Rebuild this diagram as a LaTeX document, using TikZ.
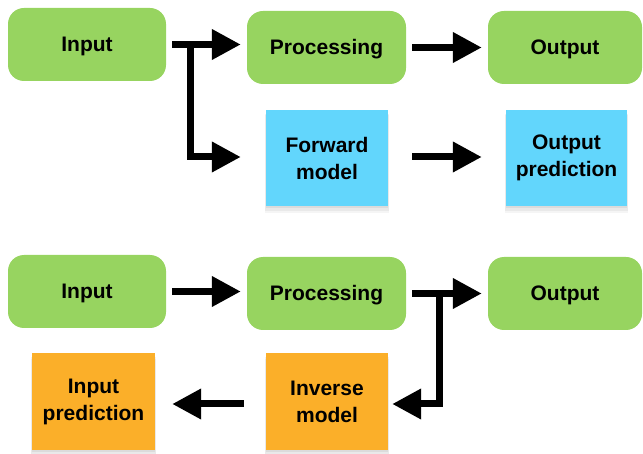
\documentclass[tikz,border=0pt]{standalone}
\usepackage{fontspec}
\setmainfont{Liberation Sans}
\usetikzlibrary{arrows.meta,shadows,calc}
\definecolor{gbox}{RGB}{151,212,96}
\definecolor{bbox}{RGB}{98,214,252}
\definecolor{obox}{RGB}{251,175,41}
\tikzset{
  txt/.style={font=\fontsize{21}{27}\selectfont\bfseries, align=center, text=black},
  greenbox/.style={txt, fill=gbox, rounded corners=16pt, minimum width=158pt, minimum height=73pt, inner sep=0pt,
    text height=15pt, text depth=0pt},
  note/.style={txt, minimum width=122pt, minimum height=96pt, inner sep=0pt,
    general shadow={shadow yshift=-2pt, opacity=0.06, fill=black},
    general shadow={shadow yshift=-4pt, shadow scale=1.01, opacity=0.05, fill=black},
    general shadow={shadow yshift=-6pt, shadow scale=1.02, opacity=0.04, fill=black}},
  bluenote/.style={note, fill=bbox},
  orangenote/.style={note, fill=obox},
  conn/.style={line width=7pt, line join=miter, draw=black,
    -{Triangle[length=29pt,width=29pt]}}
}
\begin{document}
\begin{tikzpicture}[x=1pt,y=-1pt]
\useasboundingbox (0,0) rectangle (643,454);
% top row
\node[greenbox] (in1) at (87,44.5) {Input};
\node[greenbox, minimum width=159pt] (proc1) at (326.5,47.5) {Processing};
\node[greenbox, minimum width=154pt] (out1) at (565,47.5) {Output};
\node[bluenote] (fwd) at (327,158) {Forward\\model};
\node[bluenote, minimum width=121pt] (opred) at (566.5,158) {Output\\prediction};
% bottom row
\node[greenbox] (in2) at (87,291.5) {Input};
\node[greenbox, minimum width=159pt] (proc2) at (326.5,293.5) {Processing};
\node[greenbox, minimum width=154pt] (out2) at (565,293.5) {Output};
\node[orangenote] (inv) at (327,401.5) {Inverse\\model};
\node[orangenote, minimum width=123pt] (ipred) at (93.5,401.5) {Input\\prediction};
% top connectors
\coordinate (b1) at ($(in1.east)+(24,0)$);
\coordinate (fwdl) at ($(fwd.west)+(0,-1)$);
\draw[conn, shorten <=6pt, shorten >=6pt] (in1.east) -- (in1.east -| proc1.west);
\draw[conn, shorten >=25pt] (b1) |- (fwdl);
\draw[conn, shorten <=6pt, shorten >=6pt] (proc1.east) -- (out1.west);
\draw[conn, shorten <=24pt, shorten >=24pt] (fwdl -| fwd.east) -- (fwdl -| opred.west);
% bottom connectors
\coordinate (b2) at ($(proc2.east)+(33,0)$);
\coordinate (invr) at ($(inv.east)+(0,2.5)$);
\draw[conn, shorten <=6pt, shorten >=6pt] (in2.east) -- (in2.east -| proc2.west);
\draw[conn, shorten <=6pt, shorten >=6pt] (proc2.east) -- (out2.west);
\draw[conn, shorten >=4pt] (b2) |- (invr);
\draw[conn, shorten <=22pt, shorten >=17pt] (invr -| inv.west) -- (invr -| ipred.east);
\end{tikzpicture}
\end{document}
